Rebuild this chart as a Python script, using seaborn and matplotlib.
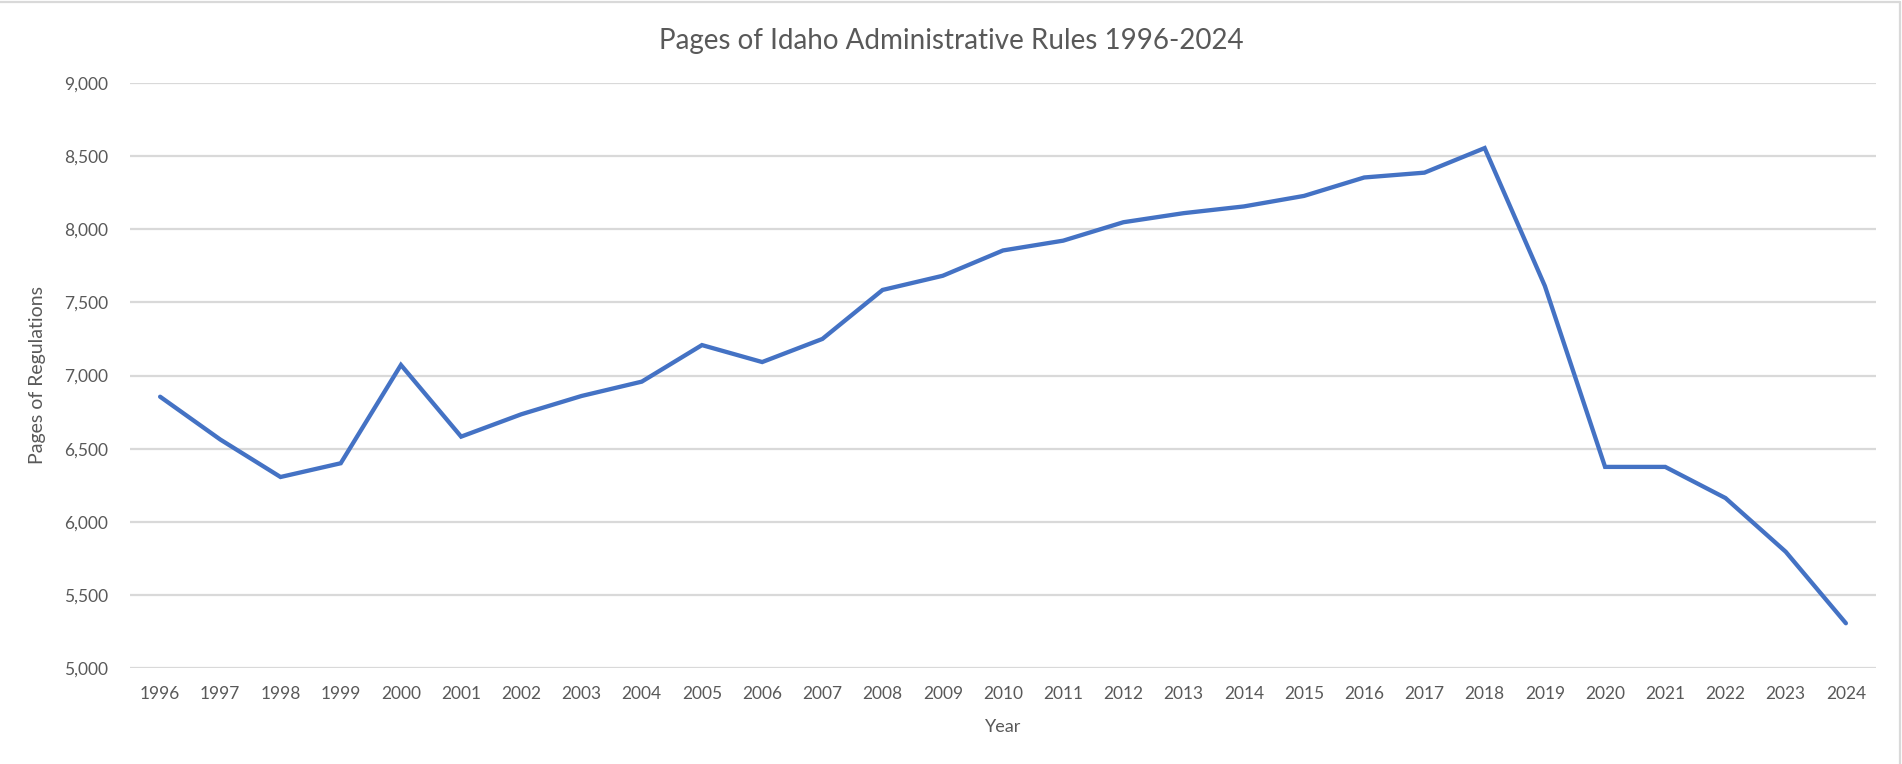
import matplotlib
matplotlib.use("Agg")
import matplotlib.pyplot as plt
from matplotlib.lines import Line2D
from matplotlib.ticker import FuncFormatter
import seaborn as sns
import pandas as pd

years = list(range(1996, 2025))
pages = [6855, 6562, 6306, 6400, 7072, 6582, 6735, 6860, 6958,
         7208, 7092, 7250, 7585, 7682, 7855, 7922, 8048, 8110, 8156,
         8228, 8354, 8387, 8555, 7612, 6375, 6375, 6162, 5795, 5306]
y_ticks = [5000, 5500, 6000, 6500, 7000, 7500, 8000, 8500, 9000]

title = "Pages of Idaho Administrative Rules 1996-2024"
x_label = "Year"
y_label = "Pages of Regulations"

df = pd.DataFrame({"Year": years, "Pages": pages})

sns.set_theme(style="white")
plt.rcParams["font.family"] = ["Lato", "DejaVu Sans"]

W, H = 1902, 764
fig = plt.figure(figsize=(W / 100, H / 100), dpi=100)
ax = fig.add_axes([130 / W, 1 - 668 / H, (1876 - 130) / W, (668 - 83) / H])

text_c = "#595959"
grid_c = "#D9D9D9"

sns.lineplot(data=df, x="Year", y="Pages", ax=ax, color="#4472C4",
             linewidth=3.1, solid_joinstyle="miter", zorder=3)

ax.set_xlim(years[0] - 0.5, years[-1] + 0.5)
ax.set_ylim(y_ticks[0], y_ticks[-1])
ax.set_xticks(years)
ax.set_xticklabels([str(y) for y in years])
ax.set_yticks(y_ticks)
ax.yaxis.set_major_formatter(FuncFormatter(lambda v, p: f"{int(v):,}"))
ax.grid(axis="y", color=grid_c, linewidth=1.6, zorder=0)
ax.grid(axis="x", visible=False)
ax.set_axisbelow(True)
for s in ax.spines.values():
    s.set_visible(False)
ax.tick_params(axis="both", length=0, labelsize=12.5, labelcolor=text_c)
ax.tick_params(axis="y", pad=16)
ax.tick_params(axis="x", pad=13)
ax.set_xlabel("")
ax.set_ylabel("")

fig.text(0.5, 1 - 49 / H, title, ha="center", va="baseline",
         fontsize=20, color=text_c)
fig.text(1003 / W, 1 - 732 / H, x_label, ha="center", va="baseline",
         fontsize=13, color=text_c)
fig.text(38 / W, 1 - 375 / H, y_label, ha="center", va="center",
         rotation=90, fontsize=14, color=text_c)

# chart frame (top and right edges visible in reference)
fig.add_artist(Line2D([0, 1900 / W], [1 - 2 / H, 1 - 2 / H],
                      transform=fig.transFigure, color=grid_c, linewidth=1.6))
fig.add_artist(Line2D([1900 / W, 1900 / W], [0, 1 - 2 / H],
                      transform=fig.transFigure, color=grid_c, linewidth=1.6))

fig.savefig("out.png", dpi=100, facecolor="white")
